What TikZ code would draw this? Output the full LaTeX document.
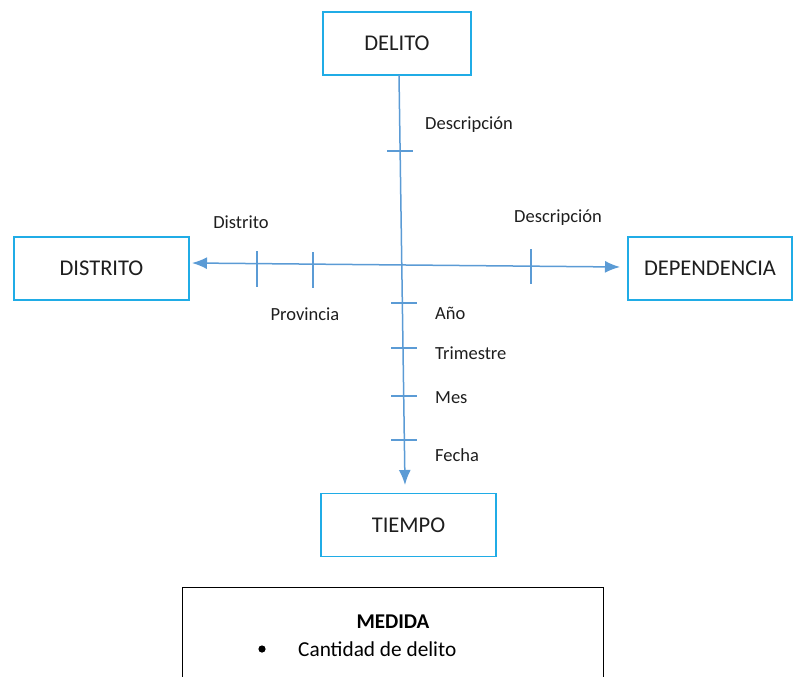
\documentclass[tikz,border=0pt]{standalone}
\usepackage{fontspec}
\setmainfont{Carlito}
\usetikzlibrary{arrows.meta}
\definecolor{boxcyan}{RGB}{32,172,230}
\definecolor{axisblue}{RGB}{91,155,213}
\definecolor{ink}{RGB}{30,30,30}
\tikzset{
  dimbox/.style={draw=boxcyan, line width=1.8pt, fill=white, minimum width=#1, minimum height=63pt,
    inner sep=0pt, text=ink, font=\fontsize{22.5}{26}\selectfont},
  dimbox/.default=148pt,
  axis/.style={draw=axisblue, line width=1.5pt},
  tick/.style={draw=axisblue, line width=1.1pt},
  lvl/.style={text=ink, font=\fontsize{18.5}{21}\selectfont, inner sep=0pt},
  lvlL/.style={lvl, anchor=west},
  oneway/.style={-{Latex[length=15pt,width=12pt]}},
  twoway/.style={{Latex[length=15pt,width=12pt]}-{Latex[length=15pt,width=12pt]}}
}
\begin{document}
\begin{tikzpicture}[x=1pt, y=-1pt]
\useasboundingbox (0,0) rectangle (793,677);

% dimension boxes
\node[dimbox=148pt] (delito) at (397,43.5) {DELITO};
\node[dimbox=175pt] (distrito) at (101.5,268.5) {DISTRITO};
\node[dimbox=164pt] (dependencia) at (710,268.5) {DEPENDENCIA};
\node[dimbox=175pt] (tiempo) at (408.5,525) {TIEMPO};

% axis end points
\coordinate (vtop) at (399,75);
\coordinate (vend) at (405,485);
\coordinate (hleft) at (192,263);
\coordinate (hright) at (620,267);

% axes
\draw[axis, oneway] (vtop) -- (vend);
\draw[axis, twoway] (hleft) -- (hright);

% hierarchy ticks on the DELITO / TIEMPO axis
\draw[tick] (387,151) -- (413,151);
\draw[tick] (391,303) -- (417,303);
\draw[tick] (391,348) -- (417,348);
\draw[tick] (391,396) -- (417,396);
\draw[tick] (391,440) -- (417,440);

% hierarchy ticks on the DISTRITO / DEPENDENCIA axis
\draw[tick] (257,251) -- (257,287);
\draw[tick] (313,252) -- (313,288);
\draw[tick] (531,249) -- (531,284);

% level labels
\node[lvl] (l1) at (469,125) {Descripción};
\node[lvl] (l2) at (241,222) {Distrito};
\node[lvl] (l3) at (558,218) {Descripción};
\node[lvl] (l4) at (305,314) {Provincia};
\node[lvlL] (l5) at (435,313) {Año};
\node[lvlL] (l6) at (435,353) {Trimestre};
\node[lvlL] (l7) at (435,398) {Mes};
\node[lvlL] (l8) at (435,455) {Fecha};

% measure box
\draw[black, line width=0.9pt] (182,700) -- (182,587) -- (603,587) -- (603,700);
\node[text=black, font=\fontsize{21}{24}\selectfont\bfseries, inner sep=0pt] (medida) at (393,622) {MEDIDA};
\fill[black] (262,649) circle (3.6pt);
\node[anchor=west, text=black, font=\fontsize{21.3}{24}\selectfont, inner sep=0pt] (cant) at (298,649) {Cantidad de delito};
\end{tikzpicture}
\end{document}
